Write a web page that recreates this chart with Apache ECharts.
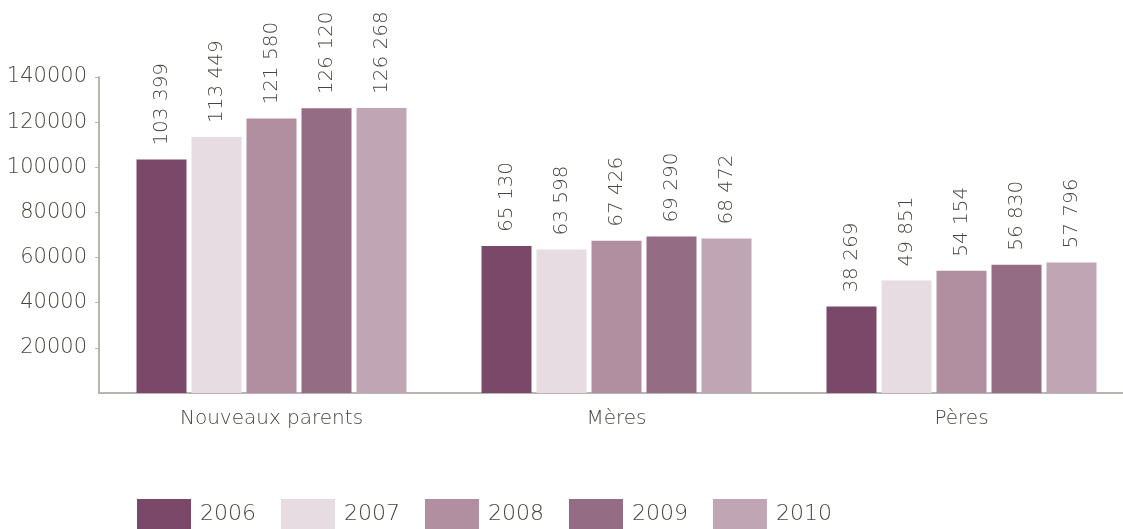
<!DOCTYPE html>
<html>
<head>
<meta charset="utf-8">
<title>Nouveaux parents</title>
<script src="https://cdn.jsdelivr.net/npm/echarts@6/dist/echarts.min.js"></script>
<style>
  html, body { margin: 0; padding: 0; background: #fff; }
  #chart { width: 1123px; height: 529px; }
</style>
</head>
<body>
<div id="chart"></div>
<script>
(() => {
  "use strict";

  const categories = ["Nouveaux parents", "Mères", "Pères"];
  const years = ["2006", "2007", "2008", "2009", "2010"];
  const values2006 = [103399, 65130, 38269];
  const values2007 = [113449, 63598, 49851];
  const values2008 = [121580, 67426, 54154];
  const values2009 = [126120, 69290, 56830];
  const values2010 = [126268, 68472, 57796];
  const colors = ["#7a4868", "#e6dce1", "#b18fa0", "#946c84", "#c0a6b5"];

  const seriesValues = [values2006, values2007, values2008, values2009, values2010];
  const font = "'DejaVu Sans', sans-serif";
  const textColor = "#46463e";

  const chart = echarts.init(document.getElementById("chart"), null, { renderer: "canvas" });

  chart.setOption({
    animation: false,
    textStyle: { fontFamily: font },
    legend: {
      left: 132,
      top: 494,
      itemWidth: 54,
      itemHeight: 30,
      itemGap: 25,
      icon: "rect",
      textStyle: { fontSize: 22, color: textColor, fontWeight: 200, fontFamily: font, padding: [10, 0, 0, 4] },
      data: years
    },
    grid: { left: 99, top: 77, width: 1035, height: 316, containLabel: false, outerBoundsMode: "none" },
    xAxis: {
      type: "category",
      data: categories,
      axisLine: { lineStyle: { color: "#b6b6ae", width: 2 } },
      axisTick: { show: false },
      axisLabel: { fontSize: 20, color: textColor, fontWeight: 200, margin: 16, fontFamily: font }
    },
    yAxis: {
      type: "value",
      min: 0,
      max: 140000,
      interval: 20000,
      splitLine: { show: false },
      axisLine: { show: true, lineStyle: { color: "#b6b6ae", width: 2 } },
      axisTick: { show: true, length: 4, lineStyle: { color: "#b6b6ae" } },
      axisLabel: {
        showMinLabel: false,
        fontSize: 21,
        color: textColor,
        fontWeight: 200,
        margin: 12,
        fontFamily: font,
        formatter: (v) => String(v)
      }
    },
    series: years.map((year, i) => ({
      name: year,
      type: "bar",
      data: seriesValues[i],
      barWidth: 50,
      barGap: "10%",
      itemStyle: { color: colors[i] },
      label: {
        show: true,
        position: "top",
        rotate: 90,
        align: "left",
        verticalAlign: "middle",
        distance: 14,
        fontSize: 20,
        fontWeight: 200,
        color: textColor,
        fontFamily: font,
        formatter: (p) => String(p.value).replace(/\B(?=(\d{3})+(?!\d))/g, " ")
      }
    }))
  });
})();
</script>
</body>
</html>
